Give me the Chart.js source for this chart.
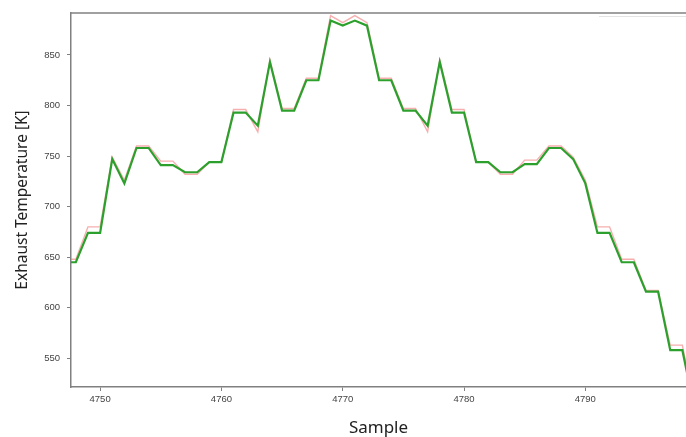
<!DOCTYPE html>
<html>
<head>
<meta charset="utf-8">
<script src="https://cdn.jsdelivr.net/npm/chart.js@4/dist/chart.umd.min.js"></script>
<style>
  html, body { margin: 0; padding: 0; background: #ffffff; overflow: hidden; }
  #wrap { width: 686px; height: 437px; position: relative; }
</style>
</head>
<body>
<div id="wrap"><canvas id="c" width="686" height="437"></canvas></div>
<script>
// ---- Data ----
const samples = [4747,4748,4749,4750,4751,4752,4753,4754,4755,4756,4757,4758,4759,4760,
  4761,4762,4763,4764,4765,4766,4767,4768,4769,4770,4771,4772,4773,4774,4775,4776,4777,
  4778,4779,4780,4781,4782,4783,4784,4785,4786,4787,4788,4789,4790,4791,4792,4793,4794,
  4795,4796,4797,4798,4799];
const predictedTemp = [645,645,674,674,747,723,758,758,741,741,734,734,744,744,
  793,793,780,843,795,795,825,825,884,879,884,879,825,825,795,795,780,
  843,793,793,744,744,734,734,742,742,758,758,747,723,674,674,645,645,
  616,616,558,558,500];
const actualTemp = [648,648,680,680,749,726,760,760,745,745,732,732,744,744,
  796,796,774,845,797,797,827,827,889,882,889,882,827,827,797,797,774,
  845,796,796,744,744,732,732,746,746,760,760,749,726,680,680,648,648,
  617,617,563,563,503];
const xTicks = [4750, 4760, 4770, 4780, 4790];
const yTicks = [550, 600, 650, 700, 750, 800, 850];
const xLabel = 'Sample';
const yLabel = 'Exhaust Temperature [K]';

const toPts = (arr) => samples.map((s, i) => ({ x: s, y: arr[i] }));

const frame = {
  id: 'frame',
  afterDraw(chart) {
    const { ctx, chartArea: a } = chart;
    ctx.save();
    ctx.strokeStyle = '#808080';
    ctx.lineWidth = 1.5;
    ctx.beginPath();
    ctx.moveTo(a.left - 0.5, a.top);
    ctx.lineTo(a.right, a.top);
    ctx.stroke();
    // faint edge of a clipped legend box
    ctx.strokeStyle = '#e4e4e4';
    ctx.lineWidth = 1;
    ctx.beginPath();
    ctx.moveTo(599, a.top + 3.5);
    ctx.lineTo(a.right, a.top + 3.5);
    ctx.stroke();
    ctx.restore();
  }
};

new Chart(document.getElementById('c'), {
  type: 'line',
  data: {
    datasets: [
      {
        label: 'Predicted',
        data: toPts(predictedTemp),
        borderColor: '#2ca02c',
        borderWidth: 2.2,
        pointRadius: 0,
        tension: 0,
        fill: false,
        clip: 0
      },
      {
        label: 'Actual',
        data: toPts(actualTemp),
        borderColor: 'rgba(240,120,120,0.6)',
        borderWidth: 1.4,
        pointRadius: 0,
        tension: 0,
        fill: false,
        clip: 0
      }
    ]
  },
  options: {
    responsive: false,
    animation: false,
    devicePixelRatio: 1,
    layout: { padding: { top: 13, left: 0, right: 0, bottom: 0 } },
    plugins: { legend: { display: false }, tooltip: { enabled: false } },
    scales: {
      x: {
        type: 'linear',
        min: 4747.6,
        max: 4798.3,
        afterBuildTicks: (s) => { s.ticks = xTicks.map(v => ({ value: v })); },
        afterFit: (s) => { s.height = 50; },
        border: { display: true, color: '#808080', width: 1.5 },
        grid: { drawOnChartArea: false, drawTicks: true, tickLength: 4, color: '#808080' },
        ticks: {
          padding: 3,
          color: '#444',
          font: { family: 'Liberation Sans, Arial, sans-serif', size: 9.5 },
          maxRotation: 0,
          callback: (v) => String(v)
        },
        title: {
          display: true,
          text: xLabel,
          color: '#222',
          font: { family: 'Noto Sans, Open Sans, sans-serif', size: 17, lineHeight: 1 },
          padding: { top: 0, bottom: 0 }
        }
      },
      y: {
        type: 'linear',
        min: 521.6,
        max: 891.5,
        afterBuildTicks: (s) => { s.ticks = yTicks.map(v => ({ value: v })); },
        afterFit: (s) => { s.width = 71; },
        border: { display: true, color: '#808080', width: 1.5 },
        grid: { drawOnChartArea: false, drawTicks: true, tickLength: 4, color: '#808080' },
        ticks: {
          padding: 7,
          color: '#444',
          font: { family: 'Liberation Sans, Arial, sans-serif', size: 9.5 },
          callback: (v) => String(v)
        },
        title: {
          display: true,
          text: yLabel,
          color: '#222',
          font: { family: 'Noto Sans, Open Sans, sans-serif', size: 15.5, lineHeight: 1.2 },
          padding: { top: 13, bottom: 0 }
        }
      }
    }
  },
  plugins: [frame]
});
</script>
</body>
</html>
